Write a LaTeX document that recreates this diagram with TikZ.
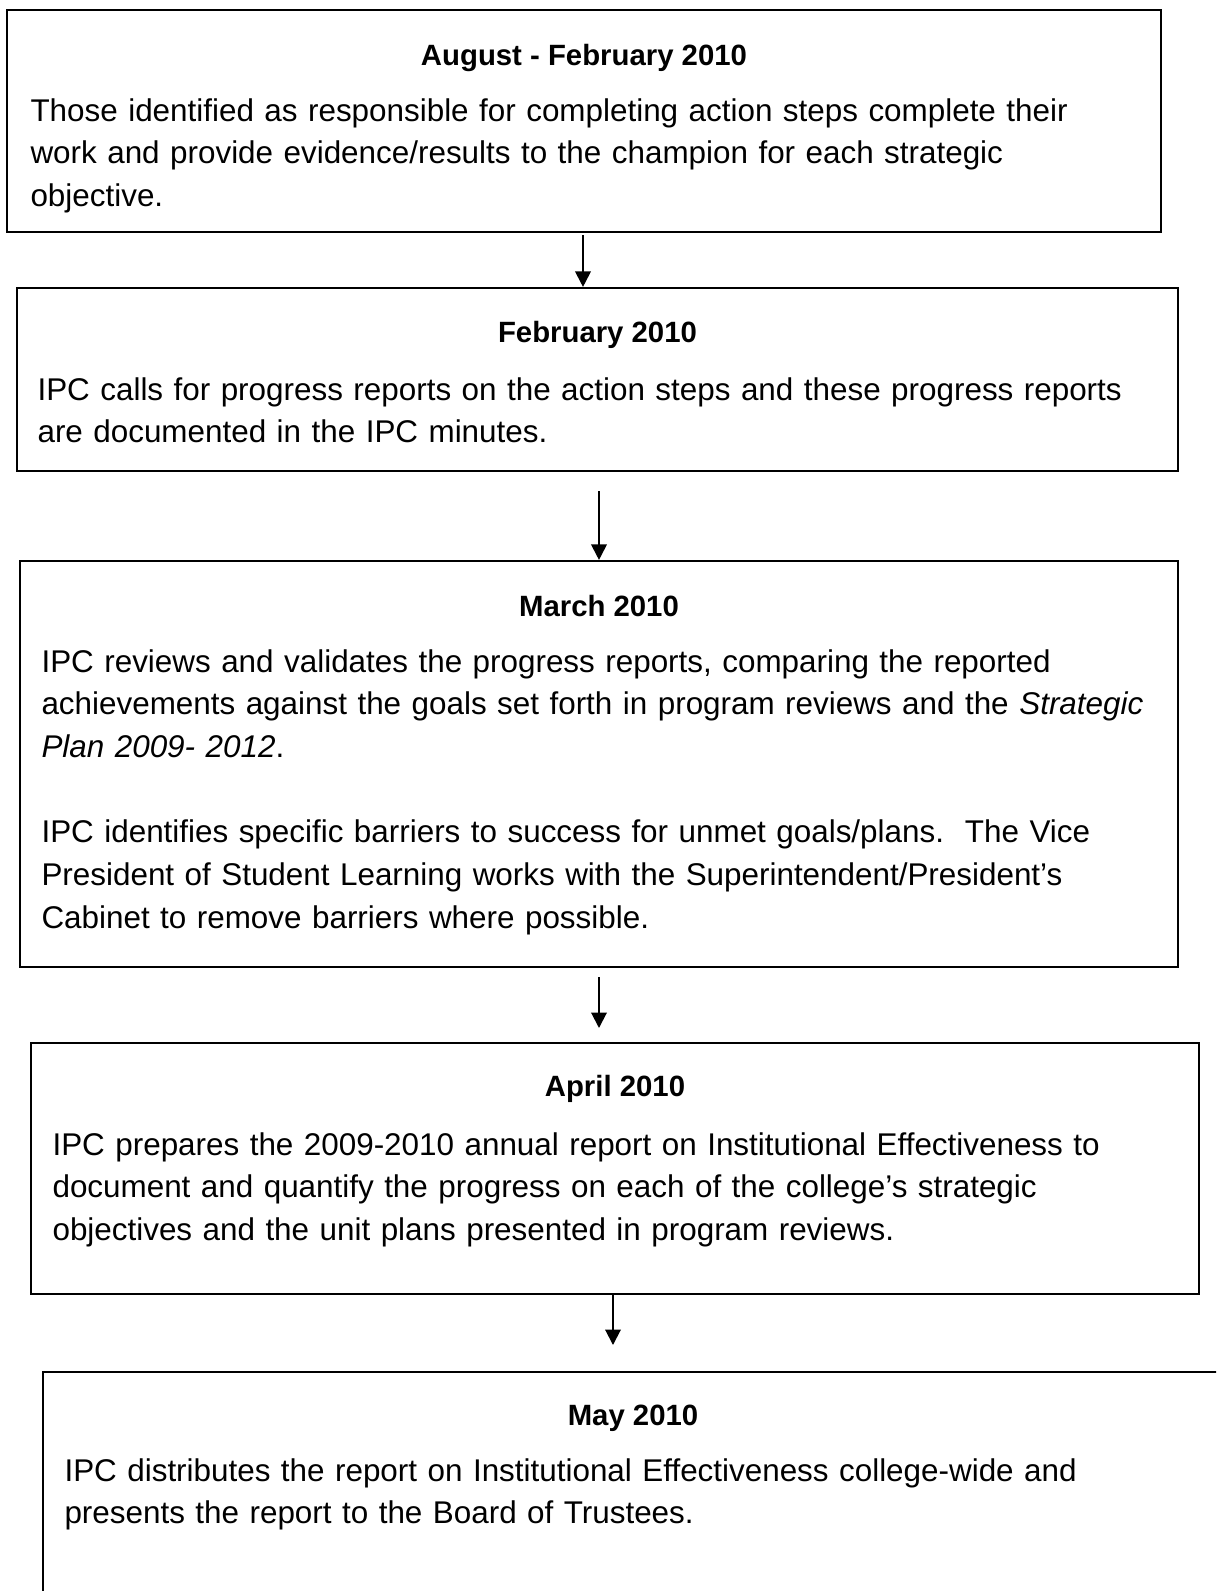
\documentclass[tikz,border=0pt]{standalone}
\usepackage{fontspec}
\setmainfont{Liberation Sans}
\usetikzlibrary{arrows.meta}

\begin{document}
\begin{tikzpicture}[x=0.375pt, y=-0.375pt,
    box/.style={draw, line width=0.8pt, inner sep=0pt},
    head/.style={anchor=base, inner sep=0pt, font=\fontsize{11}{13}\selectfont\bfseries},
    body/.style={anchor=base west, inner sep=0pt, text width=440pt, align=left, font=\fontsize{11.78}{16}\selectfont},
    arr/.style={line width=0.75pt, -{Triangle[length=5.8pt, width=5.8pt]}}]
    % page frame
    \useasboundingbox (0,0) rectangle (1216,1591);
    \clip (0,0) rectangle (1216,1591);

    % Boxes
    \node[box, minimum width=1154*0.375pt, minimum height=222*0.375pt] (b1) at (584,121) {};
    \node[box, minimum width=1161*0.375pt, minimum height=183*0.375pt] (b2) at (597.5,379.5) {};
    \node[box, minimum width=1158*0.375pt, minimum height=406*0.375pt] (b3) at (599,764) {};
    \node[box, minimum width=1168*0.375pt, minimum height=251*0.375pt] (b4) at (615,1168.5) {};
    \node[box, minimum width=1180*0.375pt, minimum height=268*0.375pt] (b5) at (633,1506) {};

    % Headings
    \node[head] (h1) at (b1.north |- 0,65) {August - February 2010};
    \node[head] (h2) at (b2.north |- 0,342) {February 2010};
    \node[head] (h3) at (b3.north |- 0,616) {March 2010};
    \node[head] (h4) at (b4.north |- 0,1096) {April 2010};
    \node[head] (h5) at (b5.north |- 0,1425) {May 2010};

    % Texts
    \node[body] (t1) at (30,121) {Those identified as responsible for completing action steps complete their\\
      work and provide evidence/results to the champion for each strategic\\
      objective.};
    \node[body] (t2) at (37,400) {IPC calls for progress reports on the action steps and these progress reports\\
      are documented in the IPC minutes.};
    \node[body] (t3) at (41,672) {IPC reviews and validates the progress reports, comparing the reported\\
      achievements against the goals set forth in program reviews and the \textit{Strategic}\\
      \textit{Plan 2009- 2012}.\\[16pt]
      IPC identifies specific barriers to success for unmet goals/plans.\ \ The Vice\\
      President of Student Learning works with the Superintendent/President’s\\
      Cabinet to remove barriers where possible.};
    \node[body] (t4) at (52,1155) {IPC prepares the 2009-2010 annual report on Institutional Effectiveness to\\
      document and quantify the progress on each of the college’s strategic\\
      objectives and the unit plans presented in program reviews.};
    \node[body] (t5) at (64,1481) {IPC distributes the report on Institutional Effectiveness college-wide and\\
      presents the report to the Board of Trustees.};

    % Arrows
    \coordinate (a1) at (583,235);
    \coordinate (a2) at (599,491);
    \coordinate (a3) at (599,977);
    \coordinate (a3e) at (599,1028);
    \coordinate (a4e) at (613,1345);
    \draw[arr] (a1) -- (a1 |- b2.north);
    \draw[arr] (a2) -- (a2 |- b3.north);
    \draw[arr] (a3) -- (a3e);
    \draw[arr] (a4e |- b4.south) -- (a4e);
\end{tikzpicture}
\end{document}
